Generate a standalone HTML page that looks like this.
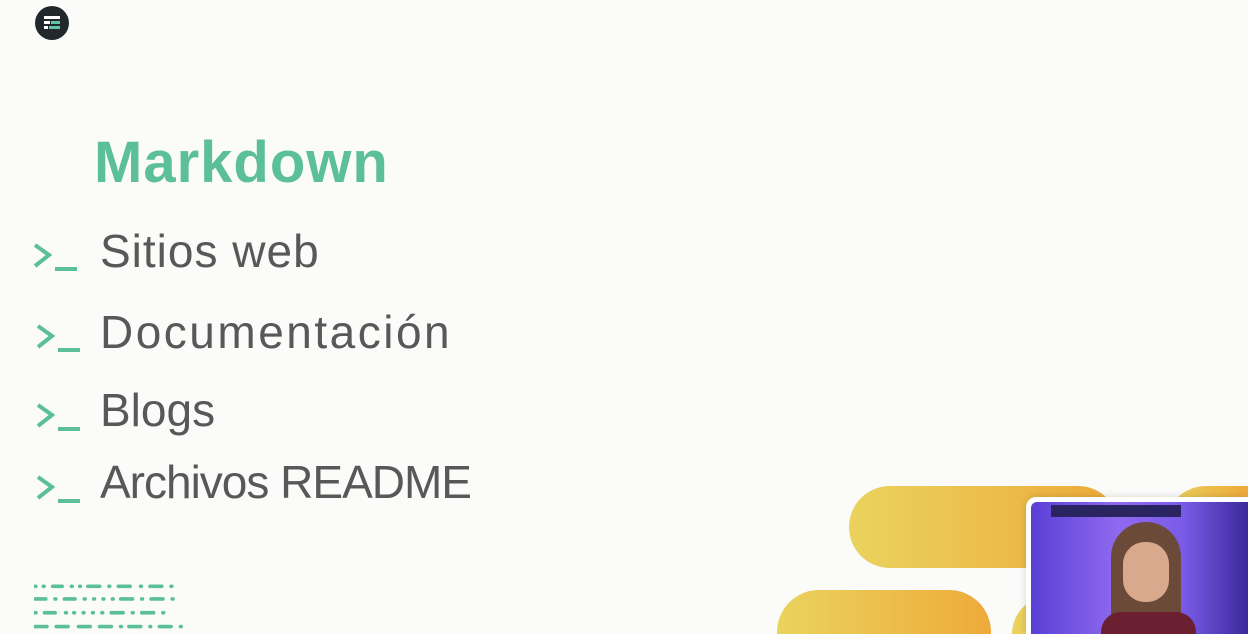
<!DOCTYPE html>
<html style="width:1248px;height:634px;overflow:hidden"><head><meta charset="utf-8"><style>
body{margin:0;width:1248px;height:634px;overflow:hidden;background:#fbfbfa;font-family:"Liberation Sans",sans-serif;position:relative}
.a{position:absolute}
.item{position:absolute;left:100px;font-size:46px;color:#585858;line-height:1}
.pr{position:absolute;left:33px;width:46px;height:30px}
.pill{position:absolute;border-radius:42px;background:linear-gradient(90deg,#ead35e,#eeaa3a)}
</style></head><body>
<div class="a" style="left:35px;top:6px;width:34px;height:34px;border-radius:50%;background:#22272b">
<div class="a" style="left:9px;top:10px;width:16px;height:3px;background:#fff"></div>
<div class="a" style="left:9px;top:15px;width:6px;height:3px;background:#fff"></div>
<div class="a" style="left:16px;top:15px;width:9px;height:3px;background:#5fc4a3"></div>
<div class="a" style="left:9px;top:20px;width:4px;height:3px;background:#fff"></div>
<div class="a" style="left:14px;top:20px;width:11px;height:3px;background:#5fc4a3"></div>
</div>
<div class="a" style="left:94px;top:134px;font-size:58px;font-weight:bold;color:#5cbf9b;line-height:1;letter-spacing:1px">Markdown</div>
<svg class="pr" style="top:241px"><path d="M2 4 L16 14 L2 25" stroke="#5cbf9b" stroke-width="4" fill="none"/><line x1="22" y1="28" x2="44" y2="28" stroke="#5cbf9b" stroke-width="4"/></svg>
<div class="item" style="top:228px;letter-spacing:1px">Sitios web</div>
<svg class="pr" style="top:322px;left:36px"><path d="M2 4 L16 14 L2 25" stroke="#5cbf9b" stroke-width="4" fill="none"/><line x1="22" y1="28" x2="44" y2="28" stroke="#5cbf9b" stroke-width="4"/></svg>
<div class="item" style="top:309px;letter-spacing:2.5px">Documentación</div>
<svg class="pr" style="top:401px;left:36px"><path d="M2 4 L16 14 L2 25" stroke="#5cbf9b" stroke-width="4" fill="none"/><line x1="22" y1="28" x2="44" y2="28" stroke="#5cbf9b" stroke-width="4"/></svg>
<div class="item" style="top:387px">Blogs</div>
<svg class="pr" style="top:473px;left:36px"><path d="M2 4 L16 14 L2 25" stroke="#5cbf9b" stroke-width="4" fill="none"/><line x1="22" y1="28" x2="44" y2="28" stroke="#5cbf9b" stroke-width="4"/></svg>
<div class="item" style="top:459px;letter-spacing:-1px">Archivos README</div>
<svg class="a" style="left:34px;top:584px" width="150" height="46" viewBox="0 0 128 40" preserveAspectRatio="none">
<g stroke="#5cbf9b" stroke-width="3.2" stroke-linecap="round">
<line x1="1" y1="2" x2="1.5" y2="2"/><line x1="8" y1="2" x2="8.5" y2="2"/><line x1="16" y1="2" x2="24" y2="2"/><line x1="32" y1="2" x2="32.5" y2="2"/><line x1="39" y1="2" x2="39.5" y2="2"/><line x1="46" y1="2" x2="56" y2="2"/><line x1="64" y1="2" x2="64.5" y2="2"/><line x1="72" y1="2" x2="82" y2="2"/><line x1="91" y1="2" x2="91.5" y2="2"/><line x1="99" y1="2" x2="109" y2="2"/><line x1="117" y1="2" x2="117.5" y2="2"/>
<line x1="1" y1="13" x2="10" y2="13"/><line x1="18" y1="13" x2="18.5" y2="13"/><line x1="26" y1="13" x2="35" y2="13"/><line x1="43" y1="13" x2="43.5" y2="13"/><line x1="51" y1="13" x2="51.5" y2="13"/><line x1="59" y1="13" x2="59.5" y2="13"/><line x1="67" y1="13" x2="67.5" y2="13"/><line x1="74" y1="13" x2="84" y2="13"/><line x1="92" y1="13" x2="92.5" y2="13"/><line x1="100" y1="13" x2="110" y2="13"/><line x1="118" y1="13" x2="118.5" y2="13"/>
<line x1="1" y1="25" x2="1.5" y2="25"/><line x1="9" y1="25" x2="18" y2="25"/><line x1="27" y1="25" x2="27.5" y2="25"/><line x1="34" y1="25" x2="34.5" y2="25"/><line x1="42" y1="25" x2="42.5" y2="25"/><line x1="50" y1="25" x2="50.5" y2="25"/><line x1="58" y1="25" x2="58.5" y2="25"/><line x1="66" y1="25" x2="76" y2="25"/><line x1="84" y1="25" x2="84.5" y2="25"/><line x1="92" y1="25" x2="102" y2="25"/><line x1="110" y1="25" x2="110.5" y2="25"/>
<line x1="1" y1="37" x2="11" y2="37"/><line x1="19" y1="37" x2="29" y2="37"/><line x1="38" y1="37" x2="48" y2="37"/><line x1="56" y1="37" x2="66" y2="37"/><line x1="74" y1="37" x2="74.5" y2="37"/><line x1="81" y1="37" x2="91" y2="37"/><line x1="99" y1="37" x2="99.5" y2="37"/><line x1="107" y1="37" x2="117" y2="37"/><line x1="125" y1="37" x2="125.5" y2="37"/>
</g></svg>
<div class="pill" style="left:849px;top:486px;width:270px;height:82px"></div>
<div class="pill" style="left:1165px;top:486px;width:83px;height:82px;border-radius:42px 0 0 42px"></div>
<div class="pill" style="left:777px;top:590px;width:214px;height:44px;border-radius:42px 42px 0 0"></div>
<div class="pill" style="left:1012px;top:596px;width:120px;height:38px;border-radius:42px 42px 0 0"></div>
<div class="a" style="left:1026px;top:497px;width:222px;height:137px;background:#fff;border-radius:10px 0 0 0;box-shadow:0 0 8px rgba(0,0,0,.15);overflow:hidden">
<div class="a" style="left:5px;top:5px;width:217px;height:132px;border-radius:6px 0 0 0;background:linear-gradient(90deg,#5a3fd6,#8f6af0 40%,#7a5be8 70%,#3a2a9a);overflow:hidden">
<div class="a" style="left:20px;top:3px;width:130px;height:12px;background:#2a2460"></div>
<div class="a" style="left:80px;top:20px;width:70px;height:112px;border-radius:35px 35px 0 0;background:#6b4a3a"></div>
<div class="a" style="left:92px;top:40px;width:46px;height:60px;border-radius:22px;background:#d9a98e"></div>
<div class="a" style="left:70px;top:110px;width:95px;height:22px;border-radius:20px 20px 0 0;background:#6a2030"></div>
</div></div>
</body></html>
